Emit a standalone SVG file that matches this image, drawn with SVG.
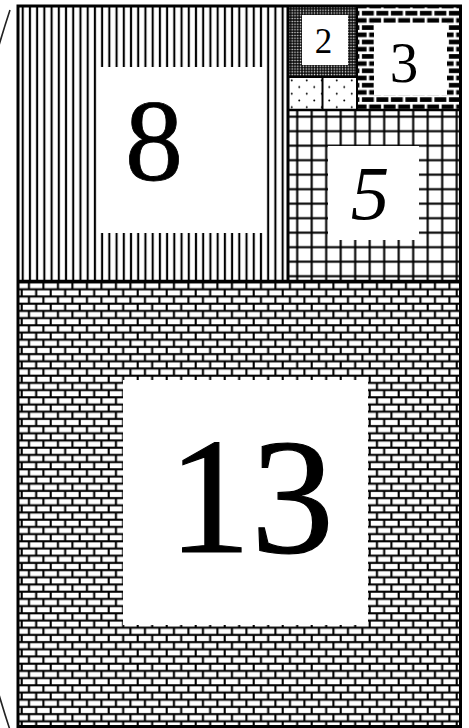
<svg xmlns="http://www.w3.org/2000/svg" width="469" height="728" viewBox="0 0 469 728">
<style>
.lbl{font-family:"Liberation Serif","Times New Roman",serif;fill:#000;text-anchor:middle}
.b{stroke:#000;fill:none}
</style>
<defs>
<pattern id="vlines" patternUnits="userSpaceOnUse" x="19.09" y="0" width="7.22" height="10">
<rect x="2.56" y="0" width="2.1" height="10" fill="#000"/>
</pattern>
<pattern id="grid" patternUnits="userSpaceOnUse" x="289.95" y="109.45" width="14.5" height="14.5">
<rect x="6.2" y="0" width="2.1" height="14.5" fill="#000"/>
<rect x="0" y="6.2" width="14.5" height="2.1" fill="#000"/>
</pattern>
<pattern id="brick" patternUnits="userSpaceOnUse" x="18.075" y="285.7" width="14.5" height="14.4">
<g stroke="#000" stroke-width="2.1">
<line x1="0" y1="3.6" x2="14.5" y2="3.6"/>
<line x1="0" y1="10.8" x2="14.5" y2="10.8"/>
<line x1="3.625" y1="3.6" x2="3.625" y2="10.8"/>
<line x1="10.875" y1="10.8" x2="10.875" y2="14.4"/>
<line x1="10.875" y1="0" x2="10.875" y2="3.6"/>
</g>
</pattern>
<pattern id="brickw" patternUnits="userSpaceOnUse" x="357" y="6" width="14.5" height="14.4">
<rect width="14.5" height="14.4" fill="#000"/>
<g stroke="#fff" stroke-width="2.6">
<line x1="0" y1="3.6" x2="14.5" y2="3.6"/>
<line x1="0" y1="10.8" x2="14.5" y2="10.8"/>
<line x1="3.625" y1="3.6" x2="3.625" y2="10.8"/>
<line x1="10.875" y1="10.8" x2="10.875" y2="14.4"/>
<line x1="10.875" y1="0" x2="10.875" y2="3.6"/>
</g>
</pattern>
<pattern id="dense" patternUnits="userSpaceOnUse" x="288" y="6" width="2.8" height="2.8">
<rect width="2.8" height="2.8" fill="#000"/>
<rect x="0.7" y="0.7" width="1.4" height="1.4" fill="#fff"/>
</pattern>
<pattern id="sparse" patternUnits="userSpaceOnUse" x="288" y="77" width="15" height="13.4">
<rect width="15" height="13.4" fill="#fff"/>
<circle cx="3.75" cy="3.35" r="1" fill="#000"/>
<circle cx="11.25" cy="10.05" r="1" fill="#000"/>
</pattern>
</defs>

<rect width="469" height="728" fill="#fff"/>

<g id="spiral">
<path d="M 10 10 A 1150 1150 0 0 0 10 730" fill="none" stroke="#222" stroke-width="1.6"/>
</g>

<g id="sq13">
<rect x="18" y="280" width="443" height="447" fill="url(#brick)"/>
<rect x="123" y="380" width="245" height="245" fill="#fff"/>
<text class="lbl" x="251" y="552" font-size="166" stroke="#000" stroke-width="1.2">13</text>
</g>

<g id="sq8">
<rect x="18" y="6" width="270" height="274" fill="url(#vlines)"/>
<rect x="98" y="67" width="167" height="166" fill="#fff"/>
<text class="lbl" x="154" y="180" font-size="116" stroke="#000" stroke-width="0.8">8</text>
</g>

<g id="sq5">
<rect x="288" y="111" width="173" height="169" fill="url(#grid)"/>
<rect x="328" y="146" width="91" height="94" fill="#fff"/>
<text class="lbl" x="370" y="219" font-size="77" font-style="italic">5</text>
</g>

<g id="sq3">
<rect x="357" y="6" width="104" height="105" fill="url(#brickw)"/>
<rect x="374" y="23" width="73" height="72" fill="#fff"/>
<text class="lbl" x="404" y="82" font-size="57">3</text>
</g>

<g id="sq2">
<rect x="288" y="6" width="69" height="71" fill="url(#dense)"/>
<rect x="302" y="15" width="46" height="50" fill="#fff"/>
<text class="lbl" x="323.5" y="53" font-size="35">2</text>
</g>

<g id="sq1a">
<rect x="288" y="77" width="34.5" height="34" fill="url(#sparse)"/>
</g>
<g id="sq1b">
<rect x="322.5" y="77" width="34.5" height="34" fill="url(#sparse)"/>
</g>

<g id="borders">
<rect class="b" x="18" y="6" width="442.5" height="720.5" stroke-width="3"/>
<line class="b" x1="18" y1="281.5" x2="460.5" y2="281.5" stroke-width="3.5"/>
<line class="b" x1="288" y1="6" x2="288" y2="281" stroke-width="3"/>
<line class="b" x1="288" y1="110" x2="460.5" y2="110" stroke-width="2.5"/>
<line class="b" x1="288" y1="77" x2="357" y2="77" stroke-width="2"/>
<line class="b" x1="322.5" y1="77" x2="322.5" y2="110" stroke-width="2"/>
<line class="b" x1="357" y1="6" x2="357" y2="110" stroke-width="2"/>
</g>
</svg>
